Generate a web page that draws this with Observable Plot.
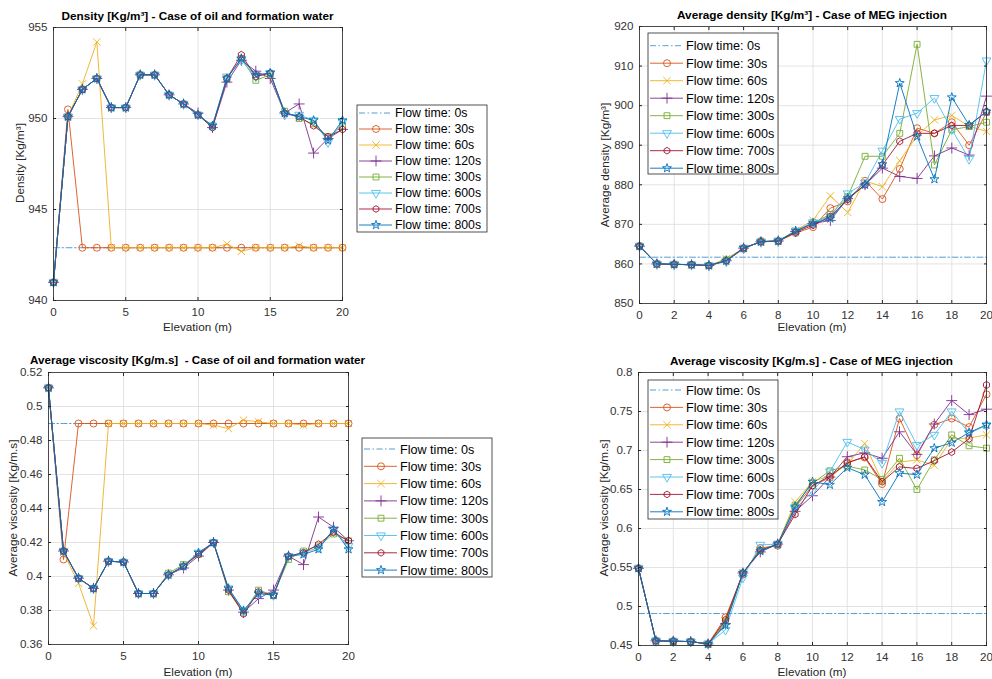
<!DOCTYPE html>
<html><head><meta charset="utf-8">
<script src="https://cdn.jsdelivr.net/npm/d3@7"></script>
<script src="https://cdn.jsdelivr.net/npm/@observablehq/plot@0.6"></script>
<style>
body{margin:0;background:#fff}
#root{position:relative;width:992px;height:679px;overflow:hidden;background:#fff;font-family:"Liberation Sans",Arial,sans-serif}
.pnl{position:absolute}
#ov{position:absolute;left:0;top:0}
</style>
</head><body><div id="root"></div>
<script>
// ---------- shared ----------
const elevation = [0,1,2,3,4,5,6,7,8,9,10,11,12,13,14,15,16,17,18,19,20];
const seriesNames = ["Flow time: 0s","Flow time: 30s","Flow time: 60s","Flow time: 120s","Flow time: 300s","Flow time: 600s","Flow time: 700s","Flow time: 800s"];
const seriesColors = ["#0072BD","#D95319","#EDB120","#7E2F8E","#77AC30","#4DBEEE","#A2142F","#0072BD"];
const seriesSymbols = [null,"circle","times","plus","square","triangle","hexagon","star"];

// ---------- Panel 1: Density, oil and formation water ----------
const densOil_0s   = [942.9,942.9,942.9,942.9,942.9,942.9,942.9,942.9,942.9,942.9,942.9,942.9,942.9,942.9,942.9,942.9,942.9,942.9,942.9,942.9,942.9];
const densOil_30s  = [941.0,950.5,942.9,942.9,942.9,942.9,942.9,942.9,942.9,942.9,942.9,942.9,942.9,942.9,942.9,942.9,942.9,942.9,942.9,942.9,942.9];
const densOil_60s  = [941.0,950.1,951.9,954.2,942.9,942.9,942.9,942.9,942.9,942.9,942.9,942.9,943.1,942.7,942.9,942.9,942.9,943.0,942.9,942.9,942.9];
const densOil_120s = [941.0,950.1,951.6,952.2,950.6,950.6,952.4,952.4,951.3,950.8,950.3,949.5,952.0,953.2,952.6,952.2,950.3,950.8,948.1,948.9,949.4];
const densOil_300s = [941.0,950.1,951.6,952.2,950.6,950.6,952.4,952.4,951.3,950.8,950.2,949.6,952.2,953.3,952.1,952.4,950.4,950.0,949.7,949.0,949.6];
const densOil_600s = [941.0,950.1,951.6,952.2,950.6,950.6,952.4,952.4,951.3,950.8,950.2,949.6,952.3,953.2,952.3,952.5,950.2,950.2,949.9,948.7,949.8];
const densOil_700s = [941.0,950.1,951.6,952.2,950.6,950.6,952.4,952.4,951.3,950.8,950.2,949.5,952.2,953.5,952.3,952.5,950.3,950.1,949.6,949.0,949.4];
const densOil_800s = [941.0,950.1,951.6,952.2,950.6,950.6,952.4,952.4,951.3,950.8,950.2,949.6,952.2,953.3,952.4,952.5,950.3,950.1,949.9,948.8,949.9];
const densOilYTicks = [940,945,950,955];

// ---------- Panel 2: Average density, MEG injection ----------
const densMeg_0s   = [861.7,861.7,861.7,861.7,861.7,861.7,861.7,861.7,861.7,861.7,861.7,861.7,861.7,861.7,861.7,861.7,861.7,861.7,861.7,861.7,861.7];
const densMeg_30s  = [864.5,860.0,859.9,859.8,859.6,860.8,863.8,865.8,865.7,867.8,869.3,874.1,875.8,881.0,876.4,884.0,894.3,893.0,895.8,890.0,898.3];
const densMeg_60s  = [864.5,860.0,859.9,859.8,859.6,861.3,864.0,865.6,865.8,868.5,871.0,877.2,873.0,881.0,879.5,886.1,892.4,896.4,897.5,894.8,893.5];
const densMeg_120s = [864.5,860.0,859.9,859.8,859.6,860.8,864.0,865.6,865.8,868.2,870.2,871.0,876.5,880.0,884.2,882.1,881.6,887.3,889.3,887.5,902.4];
const densMeg_300s = [864.5,860.0,859.9,859.8,859.6,861.0,864.0,865.6,865.8,868.2,870.4,872.5,877.0,887.2,887.2,893.0,915.5,885.0,893.9,894.7,895.8];
const densMeg_600s = [864.5,860.0,859.9,859.8,859.6,860.6,864.0,865.6,865.8,868.4,870.5,872.0,877.8,880.5,888.6,896.6,898.1,901.9,894.0,886.5,911.4];
const densMeg_700s = [864.5,860.0,859.9,859.8,859.6,860.8,864.0,865.6,865.8,868.0,869.8,872.0,876.3,880.0,885.0,891.0,893.0,893.0,895.0,895.0,898.5];
const densMeg_800s = [864.5,860.0,859.9,859.8,859.6,860.8,864.0,865.6,865.8,868.3,870.3,871.5,876.6,880.0,885.2,905.7,892.2,881.4,902.1,895.1,898.5];
const densMegYTicks = [850,860,870,880,890,900,910,920];

// ---------- Panel 3: Average viscosity, oil and formation water ----------
const viscOil_0s   = [0.49,0.49,0.49,0.49,0.49,0.49,0.49,0.49,0.49,0.49,0.49,0.49,0.49,0.49,0.49,0.49,0.49,0.49,0.49,0.49,0.49];
const viscOil_30s  = [0.511,0.410,0.490,0.490,0.490,0.490,0.490,0.490,0.490,0.490,0.490,0.490,0.490,0.490,0.490,0.490,0.490,0.490,0.490,0.490,0.490];
const viscOil_60s  = [0.511,0.414,0.396,0.371,0.490,0.490,0.490,0.490,0.490,0.490,0.490,0.489,0.487,0.492,0.491,0.490,0.490,0.489,0.490,0.490,0.490];
const viscOil_120s = [0.511,0.415,0.399,0.393,0.409,0.4085,0.390,0.390,0.401,0.405,0.412,0.420,0.392,0.379,0.387,0.392,0.412,0.407,0.435,0.429,0.421];
const viscOil_300s = [0.511,0.415,0.399,0.393,0.409,0.4085,0.390,0.390,0.402,0.407,0.413,0.420,0.391,0.379,0.392,0.389,0.410,0.415,0.418,0.425,0.421];
const viscOil_600s = [0.511,0.415,0.399,0.393,0.409,0.4085,0.390,0.390,0.401,0.406,0.414,0.420,0.393,0.380,0.390,0.389,0.412,0.414,0.417,0.427,0.418];
const viscOil_700s = [0.511,0.415,0.399,0.393,0.409,0.4085,0.390,0.390,0.401,0.406,0.413,0.420,0.392,0.378,0.391,0.389,0.412,0.414,0.419,0.426,0.421];
const viscOil_800s = [0.511,0.415,0.399,0.393,0.409,0.4085,0.390,0.390,0.401,0.406,0.414,0.420,0.393,0.380,0.390,0.389,0.412,0.413,0.416,0.428,0.416];
const viscOilYTicks = [0.36,0.38,0.4,0.42,0.44,0.46,0.48,0.5,0.52];

// ---------- Panel 4: Average viscosity, MEG injection ----------
const viscMeg_0s   = [0.491,0.491,0.491,0.491,0.491,0.491,0.491,0.491,0.491,0.491,0.491,0.491,0.491,0.491,0.491,0.491,0.491,0.491,0.491,0.491,0.491];
const viscMeg_30s  = [0.549,0.456,0.4555,0.455,0.452,0.486,0.541,0.575,0.578,0.627,0.655,0.665,0.685,0.691,0.657,0.741,0.694,0.733,0.741,0.730,0.772];
const viscMeg_60s  = [0.549,0.456,0.4555,0.455,0.452,0.482,0.543,0.572,0.580,0.634,0.660,0.668,0.682,0.709,0.660,0.685,0.688,0.681,0.715,0.716,0.720];
const viscMeg_120s = [0.549,0.456,0.4555,0.455,0.452,0.478,0.543,0.570,0.580,0.622,0.642,0.666,0.692,0.697,0.690,0.724,0.695,0.734,0.764,0.746,0.753];
const viscMeg_300s = [0.549,0.456,0.4555,0.455,0.452,0.480,0.543,0.572,0.580,0.630,0.658,0.674,0.680,0.675,0.663,0.690,0.650,0.688,0.720,0.706,0.703];
const viscMeg_600s = [0.549,0.456,0.4555,0.455,0.452,0.470,0.537,0.579,0.580,0.625,0.648,0.673,0.711,0.701,0.684,0.750,0.707,0.720,0.750,0.722,0.732];
const viscMeg_700s = [0.549,0.456,0.4555,0.455,0.452,0.483,0.543,0.572,0.580,0.618,0.655,0.667,0.684,0.692,0.660,0.679,0.677,0.687,0.698,0.715,0.784];
const viscMeg_800s = [0.549,0.456,0.4555,0.455,0.452,0.476,0.543,0.571,0.580,0.628,0.660,0.656,0.678,0.669,0.634,0.671,0.669,0.703,0.710,0.723,0.733];
const viscMegYTicks = [0.45,0.5,0.55,0.6,0.65,0.7,0.75,0.8];

const xTicksBy5 = [0,5,10,15,20];
const xTicksBy2 = [0,2,4,6,8,10,12,14,16,18,20];

// ---------- drawing ----------
const root = document.getElementById("root");
const FONT = "'Liberation Sans', Arial, Helvetica, sans-serif";
const markerR = [0, 3.5, 3.4, 3.6, 3.3, 3.3, 3.0, 2.8];
const DASHDOT = "6,2.5,1.5,2.5";

function panel(cfg) {
  const marks = [
    Plot.gridX(cfg.xTicks, {stroke: "#dcdcdc", strokeOpacity: 1, strokeWidth: 0.8}),
    Plot.gridY(cfg.yTicks, {stroke: "#dcdcdc", strokeOpacity: 1, strokeWidth: 0.8})
  ];
  cfg.series.forEach((vals, i) => {
    const rows = elevation.map((x, j) => ({x, y: vals[j]}));
    marks.push(Plot.line(rows, {
      x: "x", y: "y", stroke: seriesColors[i], strokeWidth: 0.9,
      strokeOpacity: i === 0 ? 0.75 : 1,
      strokeDasharray: i === 0 ? DASHDOT : null
    }));
    if (seriesSymbols[i]) {
      marks.push(Plot.dot(rows, {
        x: "x", y: "y", symbol: seriesSymbols[i], r: markerR[i],
        stroke: seriesColors[i], fill: "none", strokeWidth: 0.9,
        rotate: i === 5 ? 180 : 0
      }));
    }
  });
  marks.push(Plot.frame({stroke: "#262626", strokeWidth: 0.8}));
  const blank = () => "";
  marks.push(Plot.axisX(cfg.xTicks, {anchor: "bottom", tickSize: -3, tickPadding: 10, stroke: "#262626", label: null, tickFormat: d => String(d)}));
  marks.push(Plot.axisX(cfg.xTicks, {anchor: "top", tickSize: -3, stroke: "#262626", label: null, tickFormat: blank}));
  marks.push(Plot.axisY(cfg.yTicks, {anchor: "left", tickSize: -3, tickPadding: 9, stroke: "#262626", label: null, tickFormat: d => String(d)}));
  marks.push(Plot.axisY(cfg.yTicks, {anchor: "right", tickSize: -3, stroke: "#262626", label: null, tickFormat: blank}));
  const svg = Plot.plot({
    width: cfg.width, height: cfg.height,
    marginLeft: cfg.ml, marginRight: cfg.mr, marginTop: cfg.mt, marginBottom: cfg.mb,
    x: {domain: [0, 20]},
    y: {domain: cfg.yDomain},
    style: {background: "transparent", fontFamily: FONT, fontSize: "11.6px", color: "#333", overflow: "visible"},
    marks
  });
  const div = document.createElement("div");
  div.className = "pnl";
  div.style.left = cfg.left + "px";
  div.style.top = cfg.top + "px";
  div.appendChild(svg);
  root.appendChild(div);
}

panel({left: 0, top: 0, width: 350, height: 335, ml: 53, mr: 8, mt: 27, mb: 35,
  xTicks: xTicksBy5, yTicks: densOilYTicks, yDomain: [940, 955],
  series: [densOil_0s, densOil_30s, densOil_60s, densOil_120s, densOil_300s, densOil_600s, densOil_700s, densOil_800s]});
panel({left: 590, top: 0, width: 402, height: 340, ml: 49, mr: 6, mt: 26, mb: 37,
  xTicks: xTicksBy2, yTicks: densMegYTicks, yDomain: [850, 920],
  series: [densMeg_0s, densMeg_30s, densMeg_60s, densMeg_120s, densMeg_300s, densMeg_600s, densMeg_700s, densMeg_800s]});
panel({left: 0, top: 340, width: 356, height: 339, ml: 48, mr: 8, mt: 32, mb: 35,
  xTicks: xTicksBy5, yTicks: viscOilYTicks, yDomain: [0.36, 0.52],
  series: [viscOil_0s, viscOil_30s, viscOil_60s, viscOil_120s, viscOil_300s, viscOil_600s, viscOil_700s, viscOil_800s]});
panel({left: 590, top: 340, width: 402, height: 339, ml: 48, mr: 6, mt: 32, mb: 34,
  xTicks: xTicksBy2, yTicks: viscMegYTicks, yDomain: [0.45, 0.8],
  series: [viscMeg_0s, viscMeg_30s, viscMeg_60s, viscMeg_120s, viscMeg_300s, viscMeg_600s, viscMeg_700s, viscMeg_800s]});

// ---------- overlay: titles, axis labels, legends ----------
const ov = d3.select(root).append("svg").attr("id", "ov").attr("width", 992).attr("height", 679)
  .style("font-family", FONT);

const titles = [
  {text: "Density [Kg/m³] - Case of oil and formation water", x: 197.5, y: 20, w: 272},
  {text: "Average viscosity [Kg/m.s]  - Case of oil and formation water", x: 197.5, y: 363.5, w: 335},
  {text: "Average density [Kg/m³] - Case of MEG injection", x: 812, y: 19, w: 270},
  {text: "Average viscosity [Kg/m.s] - Case of MEG injection", x: 811.5, y: 364.5, w: 283}
];
titles.forEach(t => {
  ov.append("text").attr("x", t.x).attr("y", t.y).attr("text-anchor", "middle")
    .attr("font-size", 11.7).attr("font-weight", "bold").attr("fill", "#000")
    .attr("textLength", t.w).attr("lengthAdjust", "spacingAndGlyphs")
    .style("white-space", "pre").text(t.text);
});

const xLabels = [{x: 197.5, y: 331}, {x: 812, y: 331}, {x: 198, y: 676}, {x: 812, y: 676}];
xLabels.forEach(l => {
  ov.append("text").attr("x", l.x).attr("y", l.y).attr("text-anchor", "middle")
    .attr("font-size", 11.7).attr("fill", "#262626").text("Elevation (m)");
});
const yLabels = [
  {text: "Density [Kg/m³]", x: 24, y: 163},
  {text: "Average density [Kg/m³]", x: 609, y: 165},
  {text: "Average viscosity [Kg/m.s]", x: 17, y: 508},
  {text: "Average viscosity [Kg/m.s]", x: 608, y: 508}
];
yLabels.forEach(l => {
  ov.append("text").attr("transform", `translate(${l.x},${l.y}) rotate(-90)`)
    .attr("text-anchor", "middle").attr("font-size", 11.7).attr("fill", "#262626").text(l.text);
});

const hexagonSymbol = {
  draw(context, size) {
    const r = Math.sqrt(size * 2 / (3 * Math.sqrt(3)));
    for (let k = 0; k < 6; k++) {
      const a = Math.PI / 3 * k + Math.PI / 6;
      const px = r * Math.cos(a), py = r * Math.sin(a);
      if (k === 0) context.moveTo(px, py); else context.lineTo(px, py);
    }
    context.closePath();
  }
};
const d3Symbols = {circle: d3.symbolCircle, times: d3.symbolTimes, plus: d3.symbolPlus, square: d3.symbolSquare,
  triangle: d3.symbolTriangle, hexagon: hexagonSymbol, star: d3.symbolStar};

function legend(L) {
  const g = ov.append("g");
  g.append("rect").attr("x", L.left).attr("y", L.top).attr("width", L.right - L.left).attr("height", L.bottom - L.top)
    .attr("fill", "#fff").attr("stroke", "#262626").attr("stroke-width", 0.8);
  seriesNames.forEach((name, i) => {
    const y = L.row0 + L.step * i;
    g.append("line").attr("x1", L.left + 2).attr("x2", L.left + 35).attr("y1", y).attr("y2", y)
      .attr("stroke", seriesColors[i]).attr("stroke-width", 0.9)
      .attr("stroke-opacity", i === 0 ? 0.75 : 1)
      .attr("stroke-dasharray", i === 0 ? DASHDOT : null);
    if (seriesSymbols[i]) {
      const r = markerR[i];
      g.append("path").attr("d", d3.symbol(d3Symbols[seriesSymbols[i]], Math.PI * r * r)())
        .attr("transform", `translate(${L.left + 19},${y})${i === 5 ? " rotate(180)" : ""}`)
        .attr("fill", "none").attr("stroke", seriesColors[i]).attr("stroke-width", 0.9);
    }
    g.append("text").attr("x", L.left + 38).attr("y", y).attr("dy", "0.36em")
      .attr("font-size", L.fs).attr("fill", "#000").text(name);
  });
}
legend({left: 357, right: 487, top: 105, bottom: 232, row0: 113, step: 16, fs: 12.3});
legend({left: 648, right: 778, top: 33, bottom: 174, row0: 45.7, step: 17.5, fs: 12.6});
legend({left: 362, right: 492, top: 438, bottom: 577, row0: 449, step: 17.3, fs: 12.6});
legend({left: 648, right: 778, top: 380, bottom: 519, row0: 390, step: 17.4, fs: 12.6});
</script>
</body></html>
